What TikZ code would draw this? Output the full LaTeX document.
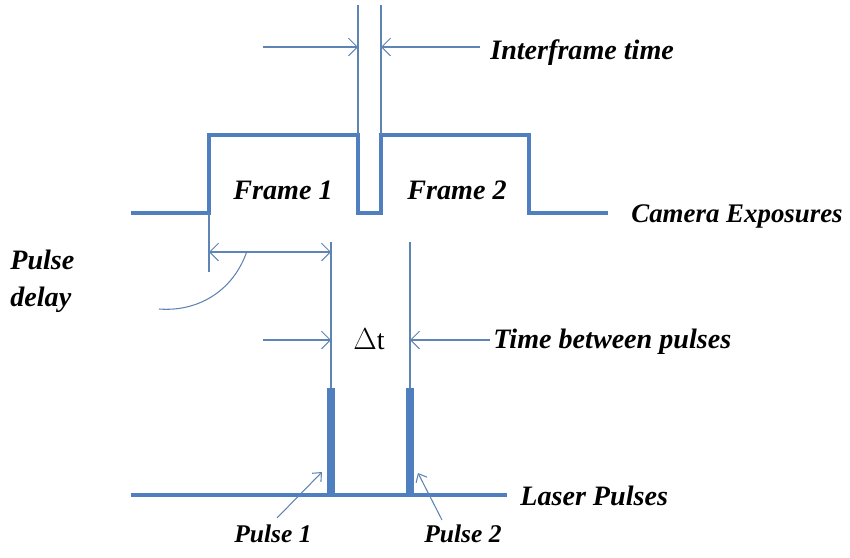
\documentclass[tikz,border=0pt]{standalone}
\usepackage{fontspec}
\setmainfont{Liberation Serif}
\usetikzlibrary{arrows.meta}
\definecolor{sigblue}{HTML}{4F7FBF}
\definecolor{dimblue}{HTML}{5E84B4}
\tikzset{
  signal/.style={draw=sigblue, line width=2.2pt, line join=miter},
  pulsebar/.style={draw=sigblue, line width=4pt},
  guide/.style={draw=dimblue, line width=0.6pt},
  dimarrow/.style={guide, -{Straight Barb[length=5pt,width=10pt]}},
  twoarrow/.style={guide, {Straight Barb[length=5pt,width=10pt]}-{Straight Barb[length=5pt,width=10pt]}},
  callout/.style={guide, -{Straight Barb[length=4pt,width=7pt]}},
  lbl/.style={font=\bfseries\itshape\fontsize{16}{20.5}\selectfont, inner sep=0pt},
  smalllbl/.style={font=\bfseries\itshape\fontsize{14.5}{16}\selectfont, inner sep=0pt}
}
\begin{document}
\begin{tikzpicture}[x=0.02cm,y=-0.02cm]
\useasboundingbox (0,0) rectangle (850,558);
\coordinate (f1s) at (209,135);
\coordinate (f1e) at (358,135);
\coordinate (f2s) at (381,135);
\coordinate (f2e) at (529,135);
\coordinate (p1) at (331,388);
\coordinate (p2) at (410,388);
% camera exposures
\draw[signal] (131,213) -- (209,213) -- (f1s) -- (f1e) -- (358,213) -- (381,213)
   -- (f2s) -- (f2e) -- (529,213) -- (608,213);
% laser pulses
\draw[signal] (131,495) -- (507,495);
\draw[pulsebar] (p1) -- (331,495);
\draw[pulsebar] (p2) -- (410,495);
% guides
\coordinate (g1) at (358,5);
\coordinate (g2) at (381,5);
\coordinate (g3) at (209,272);
\coordinate (g4) at (331,242);
\coordinate (g5) at (410,242);
\draw[guide] (g1) -- (f1e);
\draw[guide] (g2) -- (f2s);
\draw[guide] (209,213) -- (g3);
\draw[guide] (g4) -- (p1);
\draw[guide] (g5) -- (p2);
% labels
\node[lbl, anchor=base west] (ift) at (490,59) {Interframe time};
\node[lbl, anchor=base] (fr1) at (283,199) {Frame 1};
\node[lbl, anchor=base] (fr2) at (457,199) {Frame 2};
\node[lbl, font=\bfseries\itshape\fontsize{15.3}{18}\selectfont, anchor=base west] (cam) at (631,222) {Camera Exposures};
\node[lbl, anchor=base west, align=left] (pd) at (10,306) {Pulse\\delay};
\node[lbl, anchor=base west] (tbp) at (493,348) {Time between pulses};
\node[lbl, anchor=base west] (las) at (520,505) {Laser Pulses};
\node[font=\fontsize{16}{18}\selectfont, inner sep=0pt, anchor=base] (dt) at (369,349) {$\Delta$t};
\node[smalllbl, anchor=base] (pl1) at (273,542) {Pulse 1};
\node[smalllbl, anchor=base] (pl2) at (463,542) {Pulse 2};
% dimension arrows
\coordinate (a1) at (263,47);
\coordinate (a2) at (480,47);
\draw[dimarrow] (a1) -- (a1 -| g1);
\draw[dimarrow] (a2) -- (a2 -| g2);
\coordinate (d1) at (209,252);
\draw[twoarrow] (d1) -- (d1 -| g4);
\coordinate (d2) at (263,340);
\coordinate (d3) at (490,340);
\draw[dimarrow] (d2) -- (d2 -| g4);
\draw[dimarrow] (d3) -- (d3 -| g5);
\draw[guide] (247,251) .. controls (233,292) and (197,312) .. (159,309);
\draw[callout] (277,518) -- (322,472);
\draw[callout] (442,520) -- (418,473);
\end{tikzpicture}
\end{document}
